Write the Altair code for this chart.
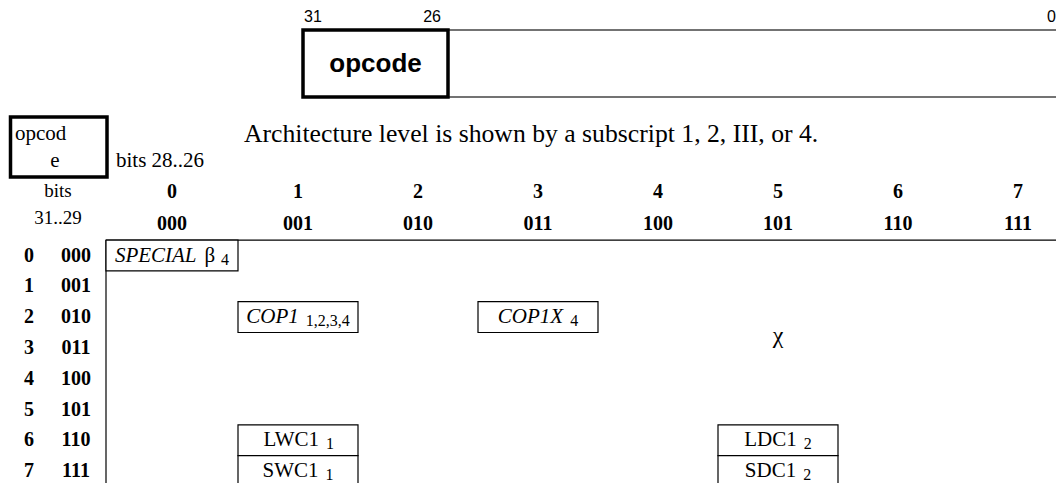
import altair as alt
import pandas as pd

# ---------------- data ----------------
col_codes = ["0", "1", "2", "3", "4", "5", "6", "7"]
col_bits = ["000", "001", "010", "011", "100", "101", "110", "111"]
row_codes = ["0", "1", "2", "3", "4", "5", "6", "7"]
row_bits = ["000", "001", "010", "011", "100", "101", "110", "111"]

cell_names = ["SPECIAL", "COP1", "COP1X", "LWC1", "SWC1", "LDC1", "SDC1"]
cell_greek = ["β", "", "", "", "", "", ""]
cell_subs = ["4", "1,2,3,4", "4", "1", "1", "2", "2"]
cell_cols = [0, 1, 3, 1, 1, 5, 5]
cell_rows = [0, 2, 2, 6, 7, 6, 7]
cell_italic = [True, True, True, False, False, False, False]

note_text = "Architecture level is shown by a subscript 1, 2, III, or 4."
field_name = "opcode"
field_bits = ["31", "26", "0"]
corner_lines = ["opcod", "e"]
corner_col_title = "bits 28..26"
corner_row_title = ["bits", "31..29"]
chi_label = "χ"
chi_col, chi_row = 5, 2.6

# ---------------- layout ----------------
W, H = 1048, 475
PAGE_X0, PAGE_Y0 = 8, 8
COL_PX, ROW_PX = 120.0, 30.8          # pixels per column / row
X0_PX, Y0_PX = 177.0, 252.5           # page pixel of column 0 / row 0 centre
xscale = alt.Scale(domain=[(PAGE_X0 - X0_PX) / COL_PX, (PAGE_X0 + W - X0_PX) / COL_PX],
                   range=[0, W], nice=False, zero=False)
yscale = alt.Scale(domain=[(PAGE_Y0 - Y0_PX) / ROW_PX, (PAGE_Y0 + H - Y0_PX) / ROW_PX],
                   range=[0, H], nice=False, zero=False)


def u(px):  # page-pixel guide -> column units
    return (px - X0_PX) / COL_PX


def v(py):  # page-pixel guide -> row units
    return (py - Y0_PX) / ROW_PX


TABLE_LEFT = u(105)
TABLE_RIGHT = 7.6
TABLE_BOTTOM = 8.0

SERIF = "Liberation Serif"
SANS = "Liberation Sans"


def X(f="x"):
    return alt.X(f"{f}:Q", scale=xscale, axis=None)


def Y(f="y"):
    return alt.Y(f"{f}:Q", scale=yscale, axis=None)


def col_extent(c):
    left = TABLE_LEFT if c == 0 else c - 0.5
    return left, c + 0.5


# approximate Times advance widths (em) for label layout
REG = {"L": .611, "W": .944, "C": .667, "S": .556, "D": .722, "β": .55,
       "1": .5, "2": .5, "3": .5, "4": .5, ",": .25}
ITA = {"S": .5, "P": .611, "E": .611, "C": .667, "I": .333, "A": .611,
       "L": .556, "O": .722, "X": .611, "1": .5}


def tw(s, size, italic=False):
    t = ITA if italic else REG
    return sum(t.get(ch, .5) for ch in s) * size


MAIN, SUB = 21, 16
rows = []
for name, gk, sub, c, r, it in zip(cell_names, cell_greek, cell_subs, cell_cols, cell_rows, cell_italic):
    l, rr = col_extent(c)
    wm, wg, ws = tw(name, MAIN, it), tw(gk, MAIN), tw(sub, SUB)
    gap = 7
    total = wm + (8 + wg + 5 if gk else gap) + ws
    centre = (l + rr) / 2
    left = centre - total / 2 / COL_PX
    xr = left + wm / COL_PX
    xg = xr + 8 / COL_PX
    xs = (xg + (wg + 5) / COL_PX) if gk else xr + gap / COL_PX
    rows.append(dict(name=name, greek=gk, sub=sub, x=l, x2=rr, y=r - 0.5, y2=r + 0.5,
                     xr=xr, xg=xg, xs=xs, yc=r, italic=it))
cells = pd.DataFrame(rows)

# ---------------- layers ----------------
layers = []

# top instruction-format field
topbox = pd.DataFrame({"x": [u(302)], "x2": [u(447)], "y": [v(27)], "y2": [v(94)]})
toplines = pd.DataFrame({"x": [u(447)] * 2, "x2": [TABLE_RIGHT] * 2, "y": [v(27), v(94)]})
layers.append(alt.Chart(toplines).mark_rule(color="#444", strokeWidth=1.5).encode(x=X(), x2="x2:Q", y=Y()))
layers.append(alt.Chart(topbox).mark_rect(fill="white", stroke="black", strokeWidth=3.5).encode(
    x=X(), x2="x2:Q", y=Y(), y2="y2:Q"))
layers.append(alt.Chart(pd.DataFrame({"x": [u(374.5)], "y": [v(61)], "t": [field_name]})).mark_text(
    font=SANS, fontSize=26, fontWeight="bold", align="center", baseline="middle", color="black").encode(
    x=X(), y=Y(), text="t:N"))
bits_df = pd.DataFrame({"x": [u(303), u(440), u(1055)], "y": [v(14)] * 3, "t": field_bits,
                        "a": ["left", "right", "right"]})
for a in ["left", "right"]:
    layers.append(alt.Chart(bits_df[bits_df.a == a]).mark_text(
        font=SANS, fontSize=16, align=a, baseline="middle", color="black").encode(x=X(), y=Y(), text="t:N"))

# corner box "opcode"
cbox = pd.DataFrame({"x": [u(9.5)], "x2": [u(106)], "y": [v(114)], "y2": [v(174)]})
layers.append(alt.Chart(cbox).mark_rect(fill="white", stroke="black", strokeWidth=3.5).encode(
    x=X(), x2="x2:Q", y=Y(), y2="y2:Q"))
layers.append(alt.Chart(pd.DataFrame({"x": [u(14)], "y": [v(131)], "t": [corner_lines[0]]})).mark_text(
    font=SERIF, fontSize=21, align="left", baseline="middle", color="black").encode(x=X(), y=Y(), text="t:N"))
layers.append(alt.Chart(pd.DataFrame({"x": [u(54)], "y": [v(158)], "t": [corner_lines[1]]})).mark_text(
    font=SERIF, fontSize=21, align="center", baseline="middle", color="black").encode(x=X(), y=Y(), text="t:N"))
layers.append(alt.Chart(pd.DataFrame({"x": [u(115)], "y": [v(158)], "t": [corner_col_title]})).mark_text(
    font=SERIF, fontSize=21, align="left", baseline="middle", color="black").encode(x=X(), y=Y(), text="t:N"))
layers.append(alt.Chart(pd.DataFrame({"x": [u(57)] * 2, "y": [v(188), v(215)], "t": corner_row_title})).mark_text(
    font=SERIF, fontSize=19, align="center", baseline="middle", color="black").encode(x=X(), y=Y(), text="t:N"))

# note
layers.append(alt.Chart(pd.DataFrame({"x": [u(243)], "y": [v(131)], "t": [note_text]})).mark_text(
    font=SERIF, fontSize=25.7, align="left", baseline="middle", color="black").encode(x=X(), y=Y(), text="t:N"))

# column headers
hdr = []
for i, (c, b) in enumerate(zip(col_codes, col_bits)):
    l, r = col_extent(i)
    hdr.append(dict(x=(l + r) / 2, y=v(189), t=c))
    hdr.append(dict(x=(l + r) / 2, y=v(221), t=b))
layers.append(alt.Chart(pd.DataFrame(hdr)).mark_text(
    font=SERIF, fontSize=20, fontWeight="bold", align="center", baseline="middle", color="black").encode(
    x=X(), y=Y(), text="t:N"))

# row headers
rh = []
for i, (c, b) in enumerate(zip(row_codes, row_bits)):
    rh.append(dict(x=u(28), y=i, t=c))
    rh.append(dict(x=u(75), y=i, t=b))
layers.append(alt.Chart(pd.DataFrame(rh)).mark_text(
    font=SERIF, fontSize=20, fontWeight="bold", align="center", baseline="middle", color="black").encode(
    x=X(), y=Y(), text="t:N"))

# table frame lines
frame = pd.DataFrame({"x": [TABLE_LEFT, TABLE_LEFT], "x2": [TABLE_RIGHT, TABLE_LEFT],
                      "y": [-0.5, -0.5], "y2": [-0.5, TABLE_BOTTOM]})
layers.append(alt.Chart(frame).mark_rule(color="black", strokeWidth=1.2).encode(
    x=X(), x2="x2:Q", y=Y(), y2="y2:Q"))

# opcode cells
layers.append(alt.Chart(cells).mark_rect(fill="white", stroke="black", strokeWidth=1.2).encode(
    x=X(), x2="x2:Q", y=Y(), y2="y2:Q"))
for it in [True, False]:
    sub_df = cells[cells.italic == it]
    layers.append(alt.Chart(sub_df).mark_text(
        font=SERIF, fontSize=MAIN, fontStyle="italic" if it else "normal", align="right",
        baseline="middle", color="black").encode(x=X("xr"), y=Y("yc"), text="name:N"))
layers.append(alt.Chart(cells[cells.greek != ""]).mark_text(
    font=SERIF, fontSize=MAIN, align="left", baseline="middle", color="black").encode(
    x=X("xg"), y=Y("yc"), text="greek:N"))
layers.append(alt.Chart(cells).mark_text(
    font=SERIF, fontSize=SUB, align="left", baseline="middle", dy=4, color="black").encode(
    x=X("xs"), y=Y("yc"), text="sub:N"))

# chi marker
layers.append(alt.Chart(pd.DataFrame({"x": [chi_col], "y": [chi_row], "t": [chi_label]})).mark_text(
    font=SERIF, fontSize=24, align="center", baseline="middle", color="black").encode(
    x=X(), y=Y(), text="t:N"))

chart = alt.layer(*layers).properties(
    width=W, height=H,
    autosize=alt.AutoSizeParams(type="fit", contains="padding"),
    padding=0,
).configure_view(stroke=None)

chart.save("out.html", embed_options={"renderer": "svg", "actions": False})
